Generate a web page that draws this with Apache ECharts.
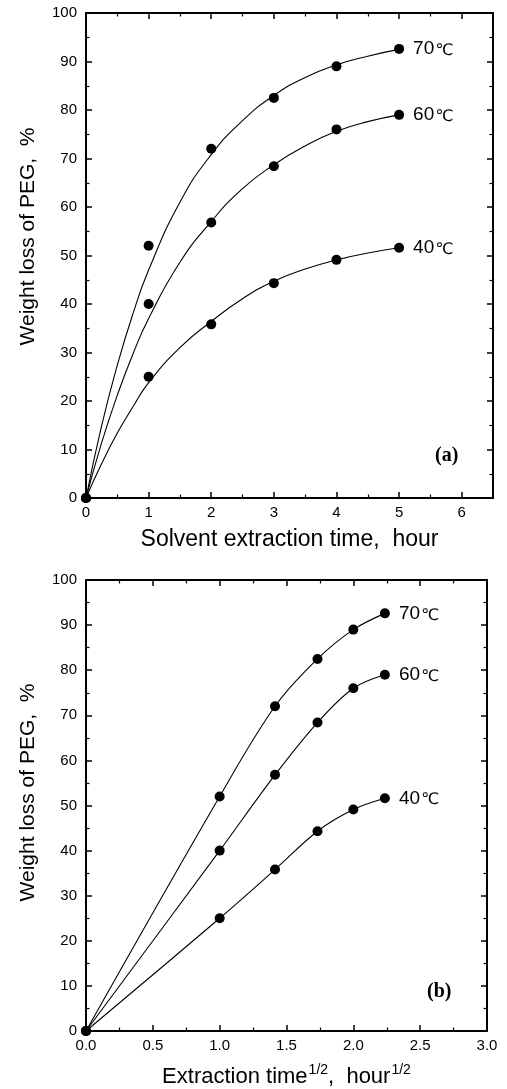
<!DOCTYPE html>
<html>
<head>
<meta charset="utf-8">
<title>Weight loss of PEG vs extraction time</title>
<script src="https://cdn.jsdelivr.net/npm/echarts@6/dist/echarts.min.js"></script>
<style>
  html, body { margin: 0; padding: 0; background: #fff; }
  #chart { width: 507px; height: 1089px; }
</style>
</head>
<body>
<div id="chart"></div>
<script>
// Measured weight loss of PEG (%) at each extraction time
const hours = [0, 1, 2, 3, 4, 5];
const rootHours = [0, 1, 1.414, 1.732, 2, 2.236];
const loss70 = [0, 52, 72, 82.5, 89, 92.6];
const loss60 = [0, 40, 56.8, 68.4, 76, 79];
const loss40 = [0, 25, 35.8, 44.3, 49.1, 51.6];
const temps = [70, 60, 40];

// Fitted curves for panel (a)
const fitHours = [0, 0.25, 0.5, 0.75, 1, 1.5, 2, 2.5, 3, 3.5, 4, 4.5, 5];
const fit70 = [0, 14.9, 27.4, 38, 47, 61, 70.8, 77.8, 83, 86.7, 89.3, 91.1, 92.5];
const fit60 = [0, 11.4, 21.2, 29.7, 37, 48.6, 57, 63.8, 68.7, 72.6, 75.6, 77.6, 79];
const fit40 = [0, 7.1, 13.4, 18.8, 23.8, 31, 36.4, 41.1, 44.7, 47.2, 49.1, 50.5, 51.6];

// Tick labels
const yTicks = [0, 10, 20, 30, 40, 50, 60, 70, 80, 90, 100];
const xTicksA = [0, 1, 2, 3, 4, 5, 6];
const xTicksB = [0, 0.5, 1, 1.5, 2, 2.5, 3];

const SANS = '"Liberation Sans", Arial, sans-serif';
const chart = echarts.init(document.getElementById('chart'), null, { renderer: 'canvas' });

function pairs(xs, ys) { return xs.map((x, i) => [x, ys[i]]); }

function withEndLabel(xs, ys, t) {
  return xs.map((x, i) => {
    const item = { value: [x, ys[i]] };
    if (i === xs.length - 1) {
      item.label = {
        show: true, position: 'right', distance: 9,
        formatter: '{n|' + t + '}{u|℃}',
        rich: {
          n: { fontFamily: SANS, fontSize: 19, color: '#000' },
          u: { fontFamily: '"DejaVu Sans", sans-serif', fontSize: 16, color: '#000', padding: [4, 0, 0, 1] }
        }
      };
    }
    return item;
  });
}

function frameAxes(gi, min, max, interval, ticks, fmt) {
  const tick = { show: true, inside: true, length: 6, lineStyle: { color: '#000', width: 1.5 } };
  const minor = { show: true, splitNumber: 2, length: 3.5, lineStyle: { color: '#000', width: 1.2 } };
  const line = { show: true, onZero: false, lineStyle: { color: '#000', width: 2 } };
  const main = {
    type: 'value', gridIndex: gi, min: min, max: max, interval: interval,
    axisLine: line, axisTick: tick, minorTick: minor, splitLine: { show: false },
    axisLabel: {
      show: true, color: '#000', fontFamily: SANS, fontSize: 15,
      formatter: v => (ticks.indexOf(Math.round(v * 1000) / 1000) >= 0 ? fmt(v) : '')
    }
  };
  const mirror = {
    type: 'value', gridIndex: gi, min: min, max: max, interval: interval,
    axisLine: line, axisTick: tick, minorTick: minor, splitLine: { show: false },
    axisLabel: { show: false }
  };
  return { main, mirror };
}

const xa = frameAxes(0, 0, 6.5, 1, xTicksA, v => String(v));
const ya = frameAxes(0, 0, 100, 10, yTicks, v => String(v));
const xb = frameAxes(1, 0, 3, 0.5, xTicksB, v => v.toFixed(1));
const yb = frameAxes(1, 0, 100, 10, yTicks, v => String(v));

const yName = 'Weight loss of PEG,  %';
const yNameStyle = { fontFamily: SANS, fontSize: 21, color: '#000' };
const xNameStyle = { fontFamily: SANS, fontSize: 23, color: '#000' };

const xAxes = [
  Object.assign({}, xa.main, { position: 'bottom', name: 'Solvent extraction time,  hour',
    nameLocation: 'middle', nameGap: 30, nameTextStyle: xNameStyle,
    axisLabel: Object.assign({}, xa.main.axisLabel, { margin: 7 }) }),
  Object.assign({}, xa.mirror, { position: 'top' }),
  Object.assign({}, xb.main, { position: 'bottom',
    name: 'Extraction time{s|1/2},  hour{s|1/2}',
    nameLocation: 'middle', nameGap: 32,
    nameTextStyle: Object.assign({}, xNameStyle, { fontSize: 22, rich: { s: { fontFamily: SANS, fontSize: 14, color: '#000', padding: [0, 0, 14, 1] } } }),
    axisLabel: Object.assign({}, xb.main.axisLabel, { margin: 7 }) }),
  Object.assign({}, xb.mirror, { position: 'top' })
];
const yAxes = [
  Object.assign({}, ya.main, { position: 'left', name: yName, nameLocation: 'middle', nameGap: 47,
    nameTextStyle: Object.assign({}, yNameStyle, { padding: [0, 0, 0, 38] }),
    axisLabel: Object.assign({}, ya.main.axisLabel, { margin: 9 }) }),
  Object.assign({}, ya.mirror, { position: 'right' }),
  Object.assign({}, yb.main, { position: 'left', name: yName, nameLocation: 'middle', nameGap: 47,
    nameTextStyle: Object.assign({}, yNameStyle, { padding: [0, 0, 0, 26] }),
    axisLabel: Object.assign({}, yb.main.axisLabel, { margin: 9 }) }),
  Object.assign({}, yb.mirror, { position: 'right' })
];

const curveStyle = { color: '#000', width: 1.1 };
const dotStyle = { color: '#000', opacity: 1 };

const series = [];
// Panel (a): fitted curves
[fit70, fit60, fit40].forEach(f => {
  series.push({ type: 'line', xAxisIndex: 0, yAxisIndex: 0, data: pairs(fitHours, f),
    smooth: true, showSymbol: false, symbol: 'none', lineStyle: curveStyle, silent: true, z: 2 });
});
// Panel (a): measured points
[loss70, loss60, loss40].forEach((ys, k) => {
  series.push({ type: 'scatter', xAxisIndex: 0, yAxisIndex: 0, data: withEndLabel(hours, ys, temps[k]),
    symbol: 'circle', symbolSize: 10, itemStyle: dotStyle, z: 3 });
});
// Panel (b): points joined by smooth lines
[loss70, loss60, loss40].forEach((ys, k) => {
  series.push({ type: 'line', xAxisIndex: 2, yAxisIndex: 2, data: withEndLabel(rootHours, ys, temps[k]),
    smooth: 0.35, symbol: 'circle', symbolSize: 10, showAllSymbol: true,
    lineStyle: curveStyle, itemStyle: dotStyle, z: 3 });
});

chart.setOption({
  animation: false,
  backgroundColor: '#fff',
  grid: [
    { left: 86, right: 14, top: 13, bottom: 591 },
    { left: 86, right: 20, top: 580, bottom: 57 }
  ],
  title: [
    { text: '(a)', left: 430, top: 441, textStyle: { fontFamily: '"Liberation Serif", "Times New Roman", serif', fontSize: 20, fontWeight: 'bold', color: '#000' } },
    { text: '(b)', left: 422, top: 977, textStyle: { fontFamily: '"Liberation Serif", "Times New Roman", serif', fontSize: 20, fontWeight: 'bold', color: '#000' } }
  ],
  xAxis: xAxes.map((a, i) => Object.assign(a, { gridIndex: i < 2 ? 0 : 1 })),
  yAxis: yAxes.map((a, i) => Object.assign(a, { gridIndex: i < 2 ? 0 : 1 })),
  series: series
});
</script>
</body>
</html>
